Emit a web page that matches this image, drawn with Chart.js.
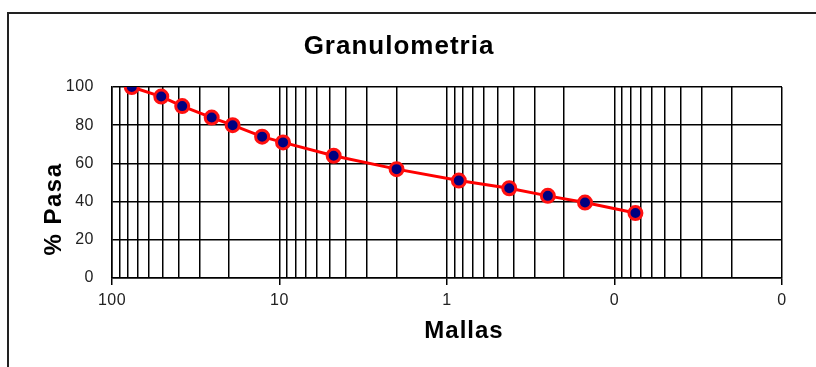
<!DOCTYPE html>
<html>
<head>
<meta charset="utf-8">
<script src="https://cdn.jsdelivr.net/npm/chart.js@4/dist/chart.umd.min.js"></script>
<style>
  body { margin: 0; background: #fff; }
  canvas { display: block; }
</style>
</head>
<body>
<canvas id="chart" width="816" height="367"></canvas>
<script>
// sieve openings (mm) and % passing
const mallas = [76.2, 50.8, 38.1, 25.4, 19.05, 12.7, 9.525, 4.75, 2.0, 0.85, 0.425, 0.25, 0.15, 0.075];
const pasa = [100, 95, 90, 84, 80, 74, 71, 64, 57, 51, 47, 43, 39.5, 34];
const decades = [0.01, 0.1, 1, 10, 100];
const yTicks = [0, 20, 40, 60, 80, 100];

const FONT = 'Liberation Sans, Arial, sans-serif';

function isMajor(v) {
  return decades.some(d => Math.abs(v - d) < d * 1e-6);
}

// the excel fonts render a bit wide, so a touch of letter spacing
const extras = {
  id: 'extras',
  beforeDraw(chart) {
    chart.ctx.letterSpacing = '0.5px';
  },
  afterDraw(chart) {
    const ctx = chart.ctx;
    ctx.save();
    ctx.strokeStyle = '#222';
    ctx.lineWidth = 2;
    ctx.beginPath();
    ctx.moveTo(816, 13);
    ctx.lineTo(8, 13);
    ctx.lineTo(8, 367);
    ctx.stroke();

    ctx.fillStyle = '#000';
    ctx.textAlign = 'center';
    ctx.textBaseline = 'middle';

    ctx.font = 'bold 26px ' + FONT;
    ctx.letterSpacing = '1px';
    ctx.fillText('Granulometria', 399, 47);

    ctx.font = 'bold 24px ' + FONT;
    ctx.fillText('Mallas', 464, 331);

    ctx.translate(54, 209);
    ctx.rotate(-Math.PI / 2);
    ctx.letterSpacing = '1.5px';
    ctx.fillText('% Pasa', 0, 0);
    ctx.restore();
  }
};

new Chart(document.getElementById('chart').getContext('2d'), {
  type: 'line',
  data: {
    datasets: [{
      data: mallas.map((m, i) => ({ x: m, y: pasa[i] })),
      borderColor: '#ff0000',
      borderWidth: 3,
      pointRadius: 6.5,
      pointHoverRadius: 6.5,
      pointBackgroundColor: '#000080',
      pointBorderColor: '#ff1010',
      pointBorderWidth: 3,
      tension: 0
    }]
  },
  options: {
    responsive: false,
    animation: false,
    devicePixelRatio: 1,
    layout: { padding: { top: 87, left: 14, right: 34, bottom: 0 } },
    plugins: {
      legend: { display: false },
      tooltip: { enabled: false }
    },
    scales: {
      x: {
        type: 'logarithmic',
        reverse: true,
        min: 0.01,
        max: 100,
        afterBuildTicks(scale) {
          const t = [];
          decades.slice(0, -1).forEach(d => {
            for (let m = 1; m <= 9; m++) t.push({ value: d * m });
          });
          t.push({ value: 100 });
          scale.ticks = t;
        },
        afterFit(scale) { scale.height = 89; },
        border: { color: '#000', width: 1.5 },
        grid: {
          color: '#000',
          lineWidth: 1.5,
          drawTicks: true,
          tickLength: 7,
          tickColor: c => (c.tick && isMajor(c.tick.value)) ? '#000' : 'rgba(0,0,0,0)'
        },
        ticks: {
          autoSkip: false,
          maxRotation: 0,
          minRotation: 0,
          padding: 6,
          color: '#222',
          font: { family: FONT, size: 16 },
          callback: v => isMajor(v) ? String(Math.round(v)) : ''
        }
      },
      y: {
        min: 0,
        max: 100,
        afterBuildTicks(scale) { scale.ticks = yTicks.map(v => ({ value: v })); },
        afterFit(scale) { scale.width = 98; },
        border: { color: '#000', width: 1.5 },
        grid: { color: '#000', lineWidth: 1.5, drawTicks: false },
        ticks: {
          padding: 18,
          color: '#222',
          font: { family: FONT, size: 16 }
        }
      }
    }
  },
  plugins: [extras]
});
</script>
</body>
</html>
